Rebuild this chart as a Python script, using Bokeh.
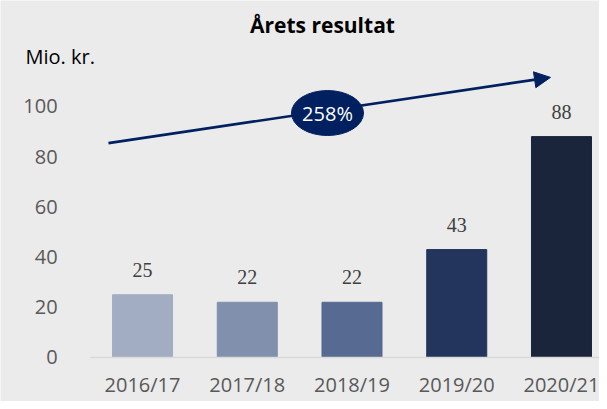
from bokeh.plotting import figure
from bokeh.models import (ColumnDataSource, LabelSet, Label, Arrow, NormalHead,
                          FixedTicker, Range1d)
from bokeh.embed import file_html
from bokeh.resources import INLINE

# ---- data ----
categories = ["2016/17", "2017/18", "2018/19", "2019/20", "2020/21"]
values = [25, 22, 22, 43, 88]
bar_colors = ["#A2ADC3", "#8190AD", "#576A91", "#23355C", "#1A243B"]
y_ticks = [0, 20, 40, 60, 80, 100]
growth_label = "258%"
title_text = "Årets resultat"
unit_text = "Mio. kr."

FONT = "Open Sans"
BG = "#EBEBEB"
NAVY = "#002060"

xs = list(range(len(categories)))
source = ColumnDataSource(dict(x=xs, top=values, color=bar_colors,
                               label=[str(v) for v in values]))

p = figure(width=599, height=401, output_backend="svg", toolbar_location=None,
           x_range=Range1d(-1.356, 4.363), y_range=Range1d(-17.53, 142.23),
           min_border_left=0, min_border_right=0, min_border_top=0,
           min_border_bottom=0)
p.background_fill_color = BG
p.border_fill_color = BG
p.outline_line_color = None
p.grid.visible = False

p.vbar(x="x", top="top", width=0.573, color="color", source=source)

# axes
xa = p.xaxis[0]
xa.fixed_location = 0
xa.bounds = (-0.5, 4.5)
xa.ticker = FixedTicker(ticks=xs)
xa.major_label_overrides = {i: c for i, c in enumerate(categories)}
xa.axis_line_color = "#D9D9D9"
xa.axis_line_width = 1.5
xa.major_tick_line_color = None
xa.minor_tick_line_color = None
xa.major_label_standoff = 8
xa.major_label_text_font = FONT
xa.major_label_text_font_size = "20px"
xa.major_label_text_color = "#595959"

ya = p.yaxis[0]
ya.fixed_location = -0.496
ya.ticker = FixedTicker(ticks=y_ticks)
ya.axis_line_color = None
ya.major_tick_line_color = None
ya.minor_tick_line_color = None
ya.major_label_standoff = 27
ya.major_label_text_font = FONT
ya.major_label_text_font_size = "20px"
ya.major_label_text_color = "#595959"

# value labels
p.add_layout(LabelSet(x="x", y="top", text="label", source=source,
                      text_align="center", text_baseline="alphabetic",
                      y_offset=18, text_font=FONT, text_font_size="20px",
                      text_color="#404040"))

# growth arrow
p.add_layout(Arrow(x_start=-0.325, y_start=85.4, x_end=3.895, y_end=111.6,
                   line_color=NAVY, line_width=2.7,
                   end=NormalHead(size=16, fill_color=NAVY, line_color=NAVY)))
p.ellipse(x=[1.766], y=[97.4], width=72, height=45, width_units="screen",
          height_units="screen", fill_color=NAVY, line_color=NAVY)
p.add_layout(Label(x=1.766, y=97.4, text=growth_label, text_align="center",
                   text_baseline="middle", text_font=FONT,
                   text_font_size="20px", text_color="white"))

# title and unit
p.add_layout(Label(x=1.718, y=132.3, text=title_text, text_align="center",
                   text_baseline="alphabetic", text_font=FONT,
                   text_font_style="bold", text_font_size="21px",
                   text_color="black"))
p.add_layout(Label(x=-1.117, y=119.9, text=unit_text, text_align="left",
                   text_baseline="alphabetic", text_font=FONT,
                   text_font_size="20px", text_color="black"))

open("out.html", "w").write(file_html(p, INLINE))
